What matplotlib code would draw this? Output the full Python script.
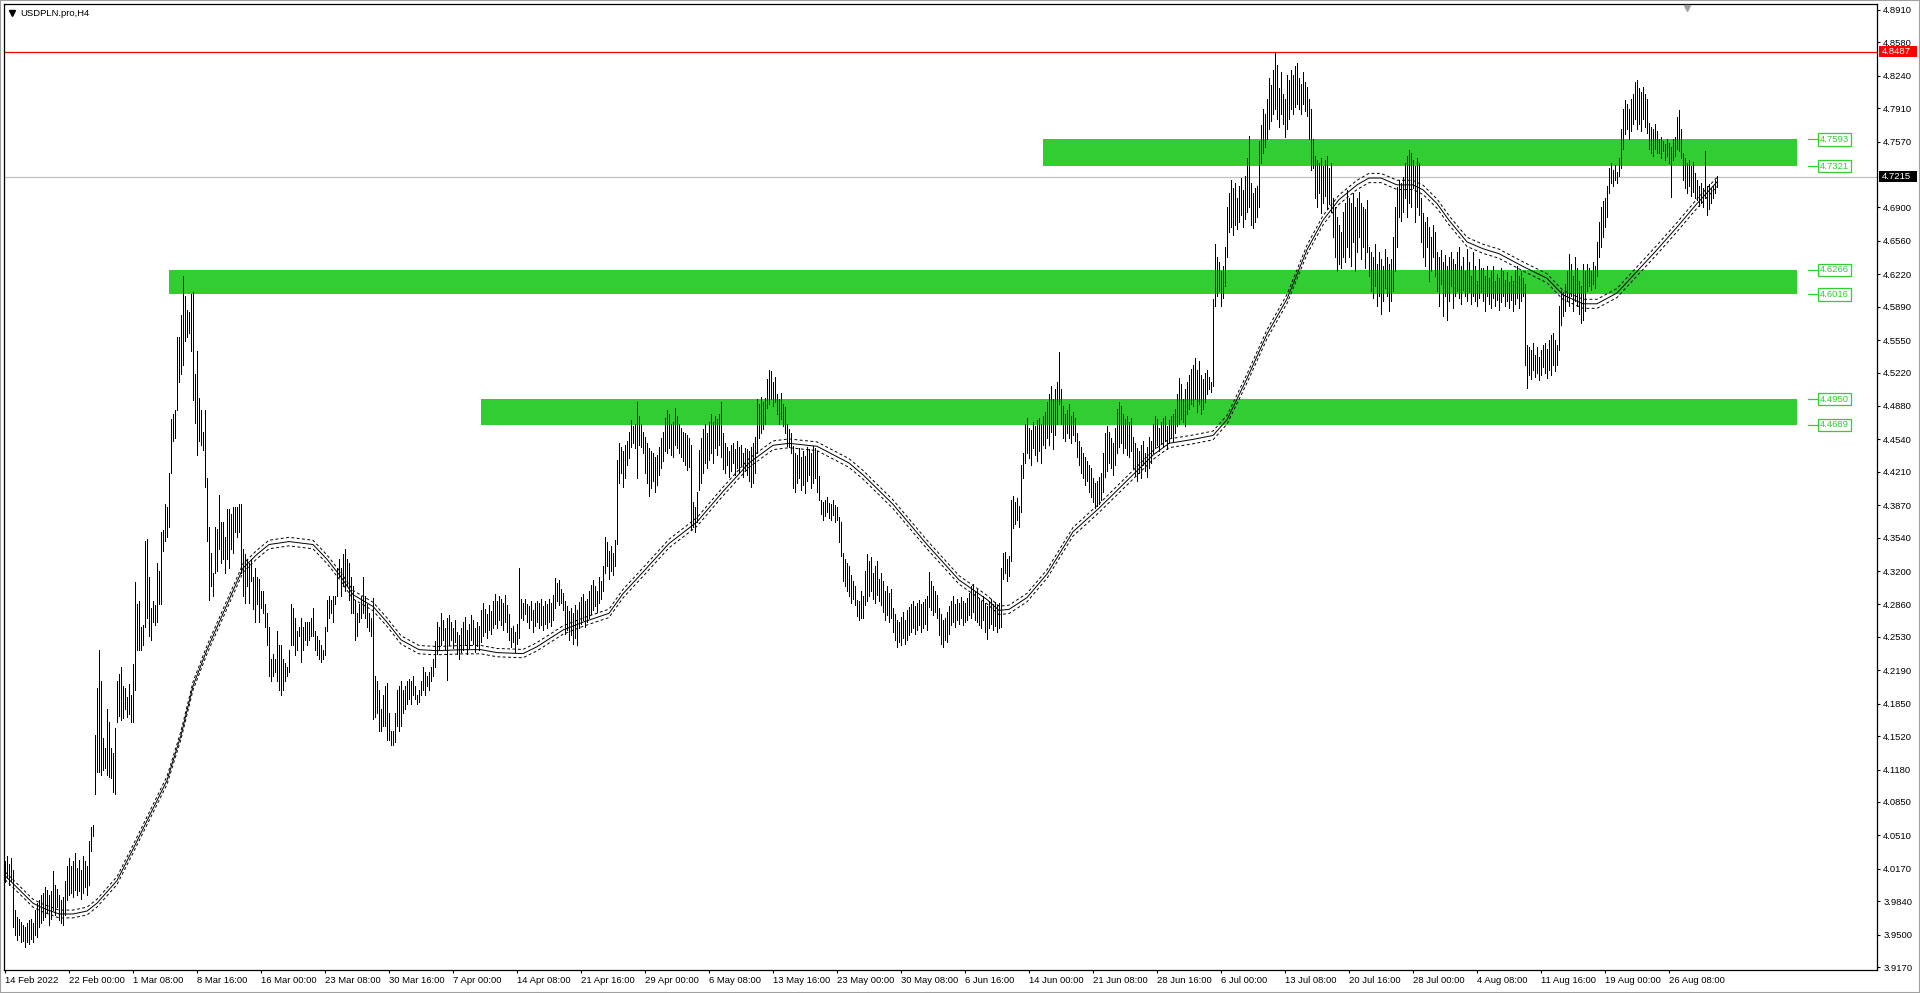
import numpy as np
import matplotlib
matplotlib.use("Agg")
import matplotlib.pyplot as plt
from matplotlib.patches import Rectangle
from matplotlib.lines import Line2D

plt.rcParams['font.family'] = ['Liberation Sans', 'DejaVu Sans']

SYMBOL = "USDPLN.pro,H4"

# H4 bars, low / high in thousandths (4037 -> 4.037)
BAR_LOW = [
    4004, 4008, 4000, 4005, 3958, 3950, 3945, 3950, 3942, 3944,
    3937, 3943, 3940, 3946, 3942, 3950, 3948, 3958, 3962, 3965,
    3968, 3972, 3960, 3966, 3975, 3970, 3978, 3965, 3962, 3960,
    3970, 3985, 3990, 3992, 3988, 3995, 3990, 3994, 3986, 3992,
    3998, 3990, 4000, 4035, 4050, 4093, 4116, 4116, 4112, 4118,
    4120, 4112, 4110, 4109, 4095, 4093, 4166, 4172, 4168, 4170,
    4180, 4171, 4175, 4166, 4166, 4199, 4240, 4240, 4240, 4245,
    4263, 4272, 4254, 4250, 4268, 4265, 4268, 4286, 4286, 4340,
    4351, 4355, 4365, 4420, 4452, 4455, 4484, 4512, 4521, 4530,
    4554, 4558, 4562, 4544, 4494, 4471, 4438, 4452, 4448, 4443,
    4406, 4351, 4291, 4305, 4295, 4318, 4320, 4342, 4328, 4332,
    4318, 4332, 4323, 4342, 4338, 4360, 4355, 4360, 4318, 4295,
    4287, 4305, 4287, 4310, 4281, 4268, 4286, 4268, 4282, 4277,
    4263, 4245, 4213, 4208, 4213, 4217, 4208, 4199, 4194, 4199,
    4208, 4213, 4217, 4245, 4245, 4235, 4240, 4254, 4227, 4240,
    4250, 4245, 4250, 4254, 4254, 4240, 4235, 4231, 4227, 4231,
    4235, 4259, 4272, 4277, 4268, 4286, 4295, 4314, 4295, 4305,
    4300, 4305, 4291, 4277, 4277, 4250, 4254, 4268, 4272, 4277,
    4272, 4263, 4259, 4254, 4169, 4171, 4176, 4157, 4157, 4162,
    4162, 4148, 4148, 4143, 4143, 4146, 4162, 4157, 4162, 4176,
    4180, 4185, 4190, 4185, 4194, 4190, 4185, 4187, 4194, 4199,
    4194, 4203, 4199, 4208, 4213, 4222, 4236, 4240, 4245, 4250,
    4240, 4209, 4245, 4250, 4242, 4248, 4236, 4230, 4238, 4240,
    4245, 4236, 4242, 4250, 4246, 4238, 4244, 4240, 4248, 4254,
    4258, 4252, 4260, 4256, 4262, 4266, 4262, 4270, 4265, 4260,
    4268, 4258, 4250, 4243, 4248, 4238, 4246, 4252, 4272, 4270,
    4276, 4268, 4262, 4270, 4258, 4264, 4268, 4262, 4265, 4260,
    4266, 4262, 4268, 4264, 4270, 4282, 4290, 4285, 4288, 4280,
    4256, 4260, 4250, 4255, 4246, 4252, 4245, 4262, 4266, 4270,
    4263, 4268, 4272, 4276, 4280, 4284, 4278, 4288, 4292, 4300,
    4318, 4325, 4312, 4320, 4316, 4325, 4348, 4410, 4420, 4406,
    4415, 4428, 4435, 4446, 4450, 4445, 4415, 4448, 4446, 4440,
    4420, 4410, 4396, 4405, 4412, 4400, 4408, 4418, 4425, 4432,
    4442, 4440, 4445, 4438, 4436, 4448, 4445, 4440, 4436, 4432,
    4428, 4423, 4426, 4362, 4365, 4360, 4370, 4402, 4410, 4420,
    4430, 4425, 4433, 4440, 4430, 4445, 4438, 4448, 4436, 4424,
    4420, 4428, 4416, 4422, 4430, 4418, 4425, 4420, 4428, 4416,
    4422, 4418, 4412, 4406, 4410, 4420, 4440, 4455, 4460, 4465,
    4470, 4486, 4490, 4495, 4488, 4492, 4480, 4470, 4475, 4468,
    4460, 4447, 4446, 4440, 4405, 4400, 4410, 4415, 4402, 4408,
    4399, 4412, 4418, 4405, 4410, 4415, 4400, 4392, 4378, 4372,
    4376, 4380, 4374, 4372, 4377, 4370, 4372, 4350, 4335, 4310,
    4305, 4300, 4295, 4287, 4292, 4285, 4274, 4270, 4272, 4272,
    4285, 4290, 4295, 4300, 4292, 4288, 4296, 4290, 4285, 4278,
    4270, 4275, 4268, 4272, 4258, 4250, 4243, 4248, 4245, 4252,
    4246, 4250, 4255, 4258, 4262, 4256, 4260, 4265, 4258, 4262,
    4266, 4260, 4283, 4280, 4275, 4278, 4272, 4255, 4246, 4243,
    4250, 4248, 4256, 4265, 4268, 4263, 4270, 4266, 4272, 4265,
    4268, 4270, 4275, 4272, 4278, 4270, 4268, 4265, 4262, 4270,
    4258, 4251, 4262, 4266, 4260, 4264, 4258, 4262, 4263, 4312,
    4318, 4310, 4315, 4330, 4364, 4368, 4372, 4365, 4380, 4415,
    4430, 4440, 4435, 4428, 4445, 4438, 4432, 4442, 4430, 4448,
    4445, 4455, 4448, 4462, 4444, 4458, 4470, 4490, 4470, 4455,
    4452, 4460, 4455, 4450, 4458, 4452, 4436, 4428, 4420, 4415,
    4408, 4412, 4400, 4395, 4390, 4384, 4386, 4388, 4392, 4400,
    4416, 4422, 4430, 4425, 4418, 4428, 4440, 4446, 4450, 4440,
    4445, 4438, 4436, 4442, 4425, 4418, 4412, 4420, 4415, 4428,
    4422, 4416, 4425, 4430, 4440, 4445, 4448, 4442, 4450, 4446,
    4452, 4444, 4450, 4456, 4452, 4460, 4468, 4470, 4475, 4472,
    4468, 4480, 4485, 4490, 4488, 4495, 4482, 4490, 4480, 4485,
    4492, 4500, 4505, 4502, 4508, 4590, 4600, 4605, 4590, 4598,
    4610, 4640, 4665, 4670, 4662, 4672, 4668, 4675, 4682, 4670,
    4678, 4685, 4690, 4672, 4669, 4675, 4680, 4690, 4735, 4745,
    4752, 4760, 4770, 4778, 4785, 4790, 4780, 4772, 4785, 4775,
    4762, 4770, 4780, 4790, 4785, 4792, 4795, 4790, 4785, 4795,
    4788, 4783, 4760, 4728, 4730, 4700, 4690, 4705, 4684, 4695,
    4702, 4688, 4694, 4685, 4660, 4640, 4625, 4632, 4628, 4640,
    4635, 4650, 4640, 4630, 4655, 4625, 4645, 4660, 4638, 4650,
    4628, 4645, 4620, 4605, 4598, 4610, 4590, 4600, 4582, 4595,
    4608, 4600, 4585, 4595, 4605, 4625, 4650, 4680, 4676, 4685,
    4700, 4680, 4695, 4690, 4710, 4675, 4690, 4682, 4655, 4640,
    4630, 4650, 4615, 4625, 4640, 4620, 4605, 4590, 4612, 4580,
    4600, 4575, 4595, 4610, 4588, 4600, 4605, 4598, 4592, 4606,
    4600, 4595, 4604, 4592, 4600, 4595, 4590, 4598, 4604, 4595,
    4585, 4600, 4592, 4588, 4598, 4590, 4596, 4586, 4594, 4600,
    4590, 4595, 4588, 4596, 4585, 4592, 4598, 4588, 4595, 4600,
    4530, 4506, 4520, 4515, 4525, 4518, 4522, 4514, 4520, 4528,
    4522, 4516, 4525, 4520, 4530, 4524, 4530, 4545, 4570, 4580,
    4585, 4595, 4590, 4600, 4585, 4595, 4590, 4582, 4572, 4576,
    4585, 4605, 4610, 4606, 4612, 4608, 4620, 4640, 4650, 4660,
    4670, 4680, 4705, 4715, 4712, 4718, 4715, 4722, 4730, 4750,
    4765, 4770, 4760, 4768, 4775, 4780, 4770, 4775, 4768, 4780,
    4772, 4766, 4750, 4745, 4742, 4750, 4745, 4745, 4740, 4748,
    4738, 4742, 4735, 4701, 4738, 4742, 4750, 4748, 4740, 4718,
    4710, 4705, 4712, 4702, 4706, 4700, 4698, 4692, 4695, 4690,
    4700, 4682, 4688, 4695, 4700, 4705, 4711,
]

BAR_HIGH = [
    4025, 4030, 4022, 4028, 4016, 3975, 3968, 3966, 3963, 3960,
    3958, 3962, 3965, 3966, 3962, 3975, 3982, 3985, 3990, 3992,
    3998, 3995, 3990, 3994, 4015, 4000, 3996, 3990, 3985, 3988,
    4005, 4020, 4028, 4020, 4025, 4033, 4018, 4026, 4016, 4030,
    4025, 4020, 4045, 4060, 4062, 4153, 4201, 4240, 4208, 4150,
    4140, 4180, 4166, 4140, 4135, 4160, 4208, 4215, 4222, 4203,
    4201, 4192, 4205, 4194, 4225, 4309, 4286, 4290, 4263, 4265,
    4351, 4353, 4314, 4282, 4290, 4285, 4328, 4320, 4360, 4362,
    4388, 4385, 4420, 4475, 4480, 4484, 4558, 4558, 4581, 4620,
    4600, 4586, 4584, 4602, 4604, 4521, 4544, 4496, 4484, 4462,
    4484, 4415, 4365, 4338, 4318, 4365, 4363, 4397, 4370, 4370,
    4355, 4383, 4383, 4378, 4385, 4385, 4385, 4388, 4388, 4342,
    4337, 4332, 4328, 4332, 4314, 4323, 4314, 4312, 4300, 4300,
    4286, 4277, 4263, 4231, 4236, 4231, 4259, 4245, 4245, 4231,
    4226, 4222, 4240, 4286, 4282, 4272, 4259, 4263, 4272, 4263,
    4268, 4268, 4268, 4272, 4282, 4259, 4254, 4250, 4245, 4240,
    4263, 4291, 4295, 4291, 4295, 4295, 4323, 4332, 4323, 4337,
    4342, 4332, 4328, 4314, 4305, 4291, 4277, 4286, 4295, 4314,
    4295, 4286, 4277, 4272, 4293, 4213, 4208, 4199, 4180, 4194,
    4203, 4206, 4176, 4157, 4157, 4176, 4199, 4203, 4208, 4199,
    4203, 4208, 4210, 4208, 4213, 4203, 4194, 4199, 4208, 4222,
    4217, 4213, 4217, 4222, 4231, 4249, 4268, 4263, 4277, 4270,
    4262, 4272, 4275, 4268, 4262, 4270, 4258, 4255, 4262, 4268,
    4273, 4260, 4266, 4275, 4270, 4262, 4268, 4264, 4280, 4287,
    4281, 4276, 4285, 4279, 4290, 4297, 4290, 4295, 4292, 4288,
    4296, 4285, 4276, 4262, 4264, 4258, 4266, 4323, 4292, 4288,
    4292, 4286, 4284, 4290, 4280, 4287, 4290, 4288, 4292, 4284,
    4290, 4286, 4292, 4288, 4296, 4313, 4308, 4311, 4302, 4298,
    4290, 4284, 4279, 4282, 4277, 4285, 4280, 4289, 4294, 4297,
    4290, 4292, 4300, 4306, 4311, 4305, 4300, 4314, 4310, 4325,
    4355, 4350, 4340, 4346, 4338, 4352, 4433, 4450, 4446, 4442,
    4448, 4452, 4462, 4474, 4468, 4470, 4492, 4478, 4470, 4462,
    4456, 4450, 4445, 4442, 4440, 4436, 4438, 4446, 4455, 4462,
    4476, 4484, 4480, 4470, 4472, 4486, 4478, 4470, 4466, 4462,
    4460, 4458, 4455, 4448, 4390, 4385, 4400, 4443, 4455, 4465,
    4470, 4460, 4472, 4480, 4472, 4478, 4475, 4480, 4492, 4460,
    4450, 4446, 4442, 4448, 4450, 4444, 4452, 4446, 4448, 4440,
    4445, 4444, 4442, 4446, 4450, 4456, 4495, 4490, 4497, 4492,
    4496, 4515, 4525, 4524, 4512, 4518, 4500, 4495, 4501, 4490,
    4487, 4470, 4465, 4460, 4447, 4440, 4438, 4445, 4436, 4442,
    4437, 4446, 4444, 4440, 4447, 4445, 4442, 4417, 4392, 4390,
    4392, 4395, 4389, 4388, 4392, 4387, 4385, 4375, 4370, 4338,
    4332, 4328, 4325, 4316, 4310, 4305, 4291, 4290, 4300, 4295,
    4320, 4337, 4330, 4334, 4318, 4325, 4330, 4312, 4318, 4310,
    4300, 4305, 4298, 4302, 4282, 4276, 4270, 4268, 4273, 4278,
    4270, 4280, 4283, 4286, 4290, 4284, 4288, 4291, 4286, 4289,
    4292, 4295, 4319, 4310, 4305, 4300, 4296, 4282, 4276, 4270,
    4272, 4278, 4284, 4290, 4295, 4286, 4292, 4288, 4294, 4290,
    4287, 4293, 4298, 4305, 4307, 4300, 4302, 4293, 4290, 4295,
    4288, 4284, 4290, 4292, 4286, 4289, 4285, 4288, 4323, 4338,
    4339, 4332, 4335, 4392, 4396, 4390, 4394, 4386, 4428, 4440,
    4470, 4476, 4466, 4464, 4472, 4468, 4474, 4476, 4470, 4478,
    4482, 4492, 4500, 4508, 4495, 4505, 4512, 4543, 4505, 4488,
    4480, 4484, 4490, 4478, 4482, 4476, 4460, 4452, 4446, 4440,
    4436, 4432, 4428, 4425, 4415, 4410, 4412, 4416, 4420, 4440,
    4460, 4468, 4462, 4455, 4450, 4466, 4485, 4492, 4488, 4480,
    4475, 4478, 4472, 4476, 4456, 4450, 4445, 4442, 4448, 4452,
    4440, 4446, 4456, 4452, 4470, 4478, 4475, 4466, 4472, 4476,
    4478, 4468, 4474, 4478, 4480, 4485, 4500, 4516, 4510, 4495,
    4505, 4512, 4520, 4526, 4530, 4537, 4525, 4534, 4520, 4515,
    4522, 4525, 4518, 4512, 4597, 4653, 4640, 4635, 4625, 4630,
    4650, 4690, 4705, 4718, 4710, 4715, 4700, 4712, 4720, 4708,
    4722, 4740, 4763, 4715, 4705, 4710, 4712, 4758, 4774, 4790,
    4785, 4800, 4822, 4815, 4830, 4848, 4835, 4812, 4828, 4805,
    4800, 4825, 4820, 4830, 4825, 4834, 4837, 4822, 4816, 4828,
    4818, 4813, 4800, 4790, 4760, 4742, 4738, 4735, 4740, 4732,
    4738, 4742, 4730, 4735, 4700, 4690, 4680, 4672, 4665, 4685,
    4695, 4708, 4700, 4695, 4705, 4690, 4700, 4706, 4695, 4690,
    4688, 4698, 4650, 4645, 4640, 4653, 4632, 4645, 4638, 4630,
    4648, 4640, 4632, 4638, 4660, 4690, 4711, 4718, 4715, 4721,
    4735, 4742, 4749, 4745, 4738, 4732, 4740, 4735, 4700, 4684,
    4675, 4680, 4670, 4660, 4672, 4665, 4645, 4640, 4647, 4635,
    4642, 4630, 4640, 4645, 4638, 4633, 4645, 4650, 4630, 4640,
    4625, 4648, 4635, 4620, 4645, 4630, 4615, 4638, 4628, 4628,
    4620, 4630, 4618, 4625, 4630, 4615, 4622, 4618, 4628, 4625,
    4616, 4624, 4614, 4620, 4615, 4626, 4630, 4620, 4625, 4618,
    4612, 4550, 4548, 4545, 4552, 4540, 4548, 4538, 4545, 4550,
    4552, 4546, 4555, 4560, 4562, 4555, 4550, 4590, 4606, 4604,
    4612, 4625, 4643, 4632, 4620, 4640, 4628, 4615, 4610, 4633,
    4625, 4632, 4628, 4625, 4635, 4630, 4655, 4675, 4690, 4697,
    4700, 4712, 4730, 4735, 4728, 4733, 4726, 4740, 4770, 4790,
    4799, 4795, 4790, 4800, 4805, 4818, 4820, 4812, 4808, 4813,
    4806, 4800, 4776, 4772, 4770, 4775, 4768, 4760, 4762, 4758,
    4755, 4760, 4756, 4752, 4760, 4762, 4782, 4789, 4770, 4745,
    4740, 4735, 4738, 4732, 4736, 4725, 4718, 4712, 4715, 4710,
    4748, 4712, 4714, 4710, 4712, 4718, 4722,
]

# moving average read at some bars
MA_BAR = [0, 14, 19, 27, 34, 41, 46, 56, 64, 72, 81, 88, 94, 101, 111, 119,
          126, 132, 142, 154, 161, 168, 174, 184, 191, 198, 207, 216, 229,
          238, 246, 259, 266, 279, 289, 302, 309, 319, 332, 346, 359, 372,
          384, 392, 406, 422, 429, 444, 461, 477, 491, 497, 502, 511, 521,
          534, 547, 561, 574, 582, 594, 604, 611, 621, 631, 641, 651, 659,
          667, 676, 682, 688, 696, 704, 709, 716, 722, 731, 739, 747, 759,
          771, 779, 789, 796, 806, 816, 826, 836, 846, 856]
MA_VAL = [4.010, 3.982, 3.977, 3.971, 3.971, 3.974, 3.982, 4.005, 4.037,
          4.070, 4.107, 4.153, 4.203, 4.240, 4.286, 4.323, 4.337, 4.347,
          4.350, 4.347, 4.332, 4.314, 4.296, 4.284, 4.268, 4.250, 4.240,
          4.239, 4.240, 4.240, 4.237, 4.236, 4.243, 4.260, 4.268, 4.277,
          4.297, 4.319, 4.348, 4.370, 4.401, 4.430, 4.448, 4.450, 4.447,
          4.430, 4.418, 4.388, 4.347, 4.311, 4.291, 4.280, 4.281, 4.293,
          4.317, 4.360, 4.384, 4.412, 4.438, 4.450, 4.454, 4.458, 4.474,
          4.516, 4.561, 4.597, 4.647, 4.677, 4.698, 4.713, 4.720, 4.720,
          4.713, 4.713, 4.708, 4.694, 4.677, 4.655, 4.648, 4.643, 4.630,
          4.618, 4.601, 4.592, 4.592, 4.603, 4.625, 4.647, 4.670, 4.694,
          4.716]
ENVELOPE = 0.001

ZONE_TOP = [4.7593, 4.6266, 4.4950]
ZONE_BOTTOM = [4.7321, 4.6016, 4.4689]
ZONE_FROM = [519, 82, 238]
ZONE_TO = 896

HIGH_LINE = 4.8487
LAST_PRICE = 4.7215

PRICE_TICKS = [4.8910, 4.8580, 4.8240, 4.7910, 4.7570, 4.6900, 4.6560,
               4.6220, 4.5890, 4.5550, 4.5220, 4.4880, 4.4540, 4.4210,
               4.3870, 4.3540, 4.3200, 4.2860, 4.2530, 4.2190, 4.1850,
               4.1520, 4.1180, 4.0850, 4.0510, 4.0170, 3.9840, 3.9500,
               3.9170]

TIME_TICKS = [0] + [32 * k for k in range(1, 27)]
TIME_LABELS = ["14 Feb 2022", "22 Feb 00:00", "1 Mar 08:00", "8 Mar 16:00",
               "16 Mar 00:00", "23 Mar 08:00", "30 Mar 16:00", "7 Apr 00:00",
               "14 Apr 08:00", "21 Apr 16:00", "29 Apr 00:00", "6 May 08:00",
               "13 May 16:00", "23 May 00:00", "30 May 08:00", "6 Jun 16:00",
               "14 Jun 00:00", "21 Jun 08:00", "28 Jun 16:00", "6 Jul 00:00",
               "13 Jul 08:00", "20 Jul 16:00", "28 Jul 00:00", "4 Aug 08:00",
               "11 Aug 16:00", "19 Aug 00:00", "26 Aug 08:00"]

GREEN = '#32CD32'
FS = 6.8

fig = plt.figure(figsize=(19.2, 9.93), dpi=100)
ax = fig.add_axes([4 / 1920, 23 / 993, 1873 / 1920, 966 / 993])

lo = np.array(BAR_LOW) / 1000.0
hi = np.array(BAR_HIGH) / 1000.0
n = min(len(lo), len(hi))
xs = np.arange(n)
# thin 1px sticks, like the terminal draws at this zoom
ax.vlines(xs, lo[:n], hi[:n], colors='black', linewidth=0.45,
          antialiased=False, zorder=3)

# support / resistance zones
for top, bot, start in zip(ZONE_TOP, ZONE_BOTTOM, ZONE_FROM):
    ax.add_patch(Rectangle((start, bot), ZONE_TO - start, top - bot,
                           facecolor=GREEN, edgecolor='none', zorder=1))
    for v in (top, bot):
        ax.plot([901.5, 906.5], [v, v], color=GREEN, lw=0.9, zorder=2)
        ax.text(907.5, v, f"{v:.4f}", color=GREEN, fontsize=FS,
                va='center', ha='left', zorder=4,
                bbox=dict(boxstyle='square,pad=0.18', fc='white',
                          ec=GREEN, lw=0.9))

# moving average + envelope
ma = np.array(MA_VAL)
ax.plot(MA_BAR, ma, color='black', lw=0.7, zorder=4)
ax.plot(MA_BAR, ma * (1 + ENVELOPE), color='black', lw=0.7,
        ls=(0, (3, 2.5)), zorder=4)
ax.plot(MA_BAR, ma * (1 - ENVELOPE), color='black', lw=0.7,
        ls=(0, (3, 2.5)), zorder=4)

ax.axhline(HIGH_LINE, color='red', lw=0.9, zorder=2)
ax.axhline(LAST_PRICE, color='#C0C0C0', lw=0.9, zorder=2)

ax.set_xlim(-0.5, 936)
ax.set_ylim(3.9140, 4.8971)

ax.yaxis.tick_right()
ax.set_yticks(PRICE_TICKS)
ax.set_yticklabels([f"{v:.4f}" for v in PRICE_TICKS])
ax.tick_params(axis='y', direction='out', length=2.5, width=0.8,
               labelsize=FS, pad=2)
ax.set_xticks(TIME_TICKS)
ax.set_xticklabels(TIME_LABELS)
for lbl in ax.get_xticklabels():
    lbl.set_horizontalalignment('left')
ax.tick_params(axis='x', direction='out', length=2.5, width=0.8,
               labelsize=FS, pad=1.5)
for sp in ax.spines.values():
    sp.set_linewidth(0.9)

# price tags on the right scale
ytr = ax.get_yaxis_transform()
for val, face in [(HIGH_LINE, 'red'), (LAST_PRICE, 'black')]:
    ax.add_patch(Rectangle((1.0011, val - 0.0057), 38 / 1873, 0.0114,
                           transform=ytr, facecolor=face, edgecolor='none',
                           clip_on=False, zorder=6))
    ax.text(1.0025, val, f"{val:.4f}", transform=ytr, color='white',
            fontsize=FS, va='center', ha='left', zorder=7, clip_on=False)

# chart shift marker
ax.plot([0.8986], [0.996], marker='v', ms=5, color='#A0A0A0',
        transform=ax.transAxes, clip_on=False, zorder=5)

# title
fig.add_artist(Line2D([12 / 1920], [1 - 13 / 993], marker='v', ms=4,
                      color='black', transform=fig.transFigure))
fig.text(20 / 1920, 1 - 13 / 993, SYMBOL, fontsize=FS, va='center',
         ha='left', color='black')

# window frame
fig.add_artist(Rectangle((0, 0), 1, 1, transform=fig.transFigure,
                         fill=False, edgecolor='#A0A0A0', lw=1.5))

fig.savefig('out.png', dpi=100)
